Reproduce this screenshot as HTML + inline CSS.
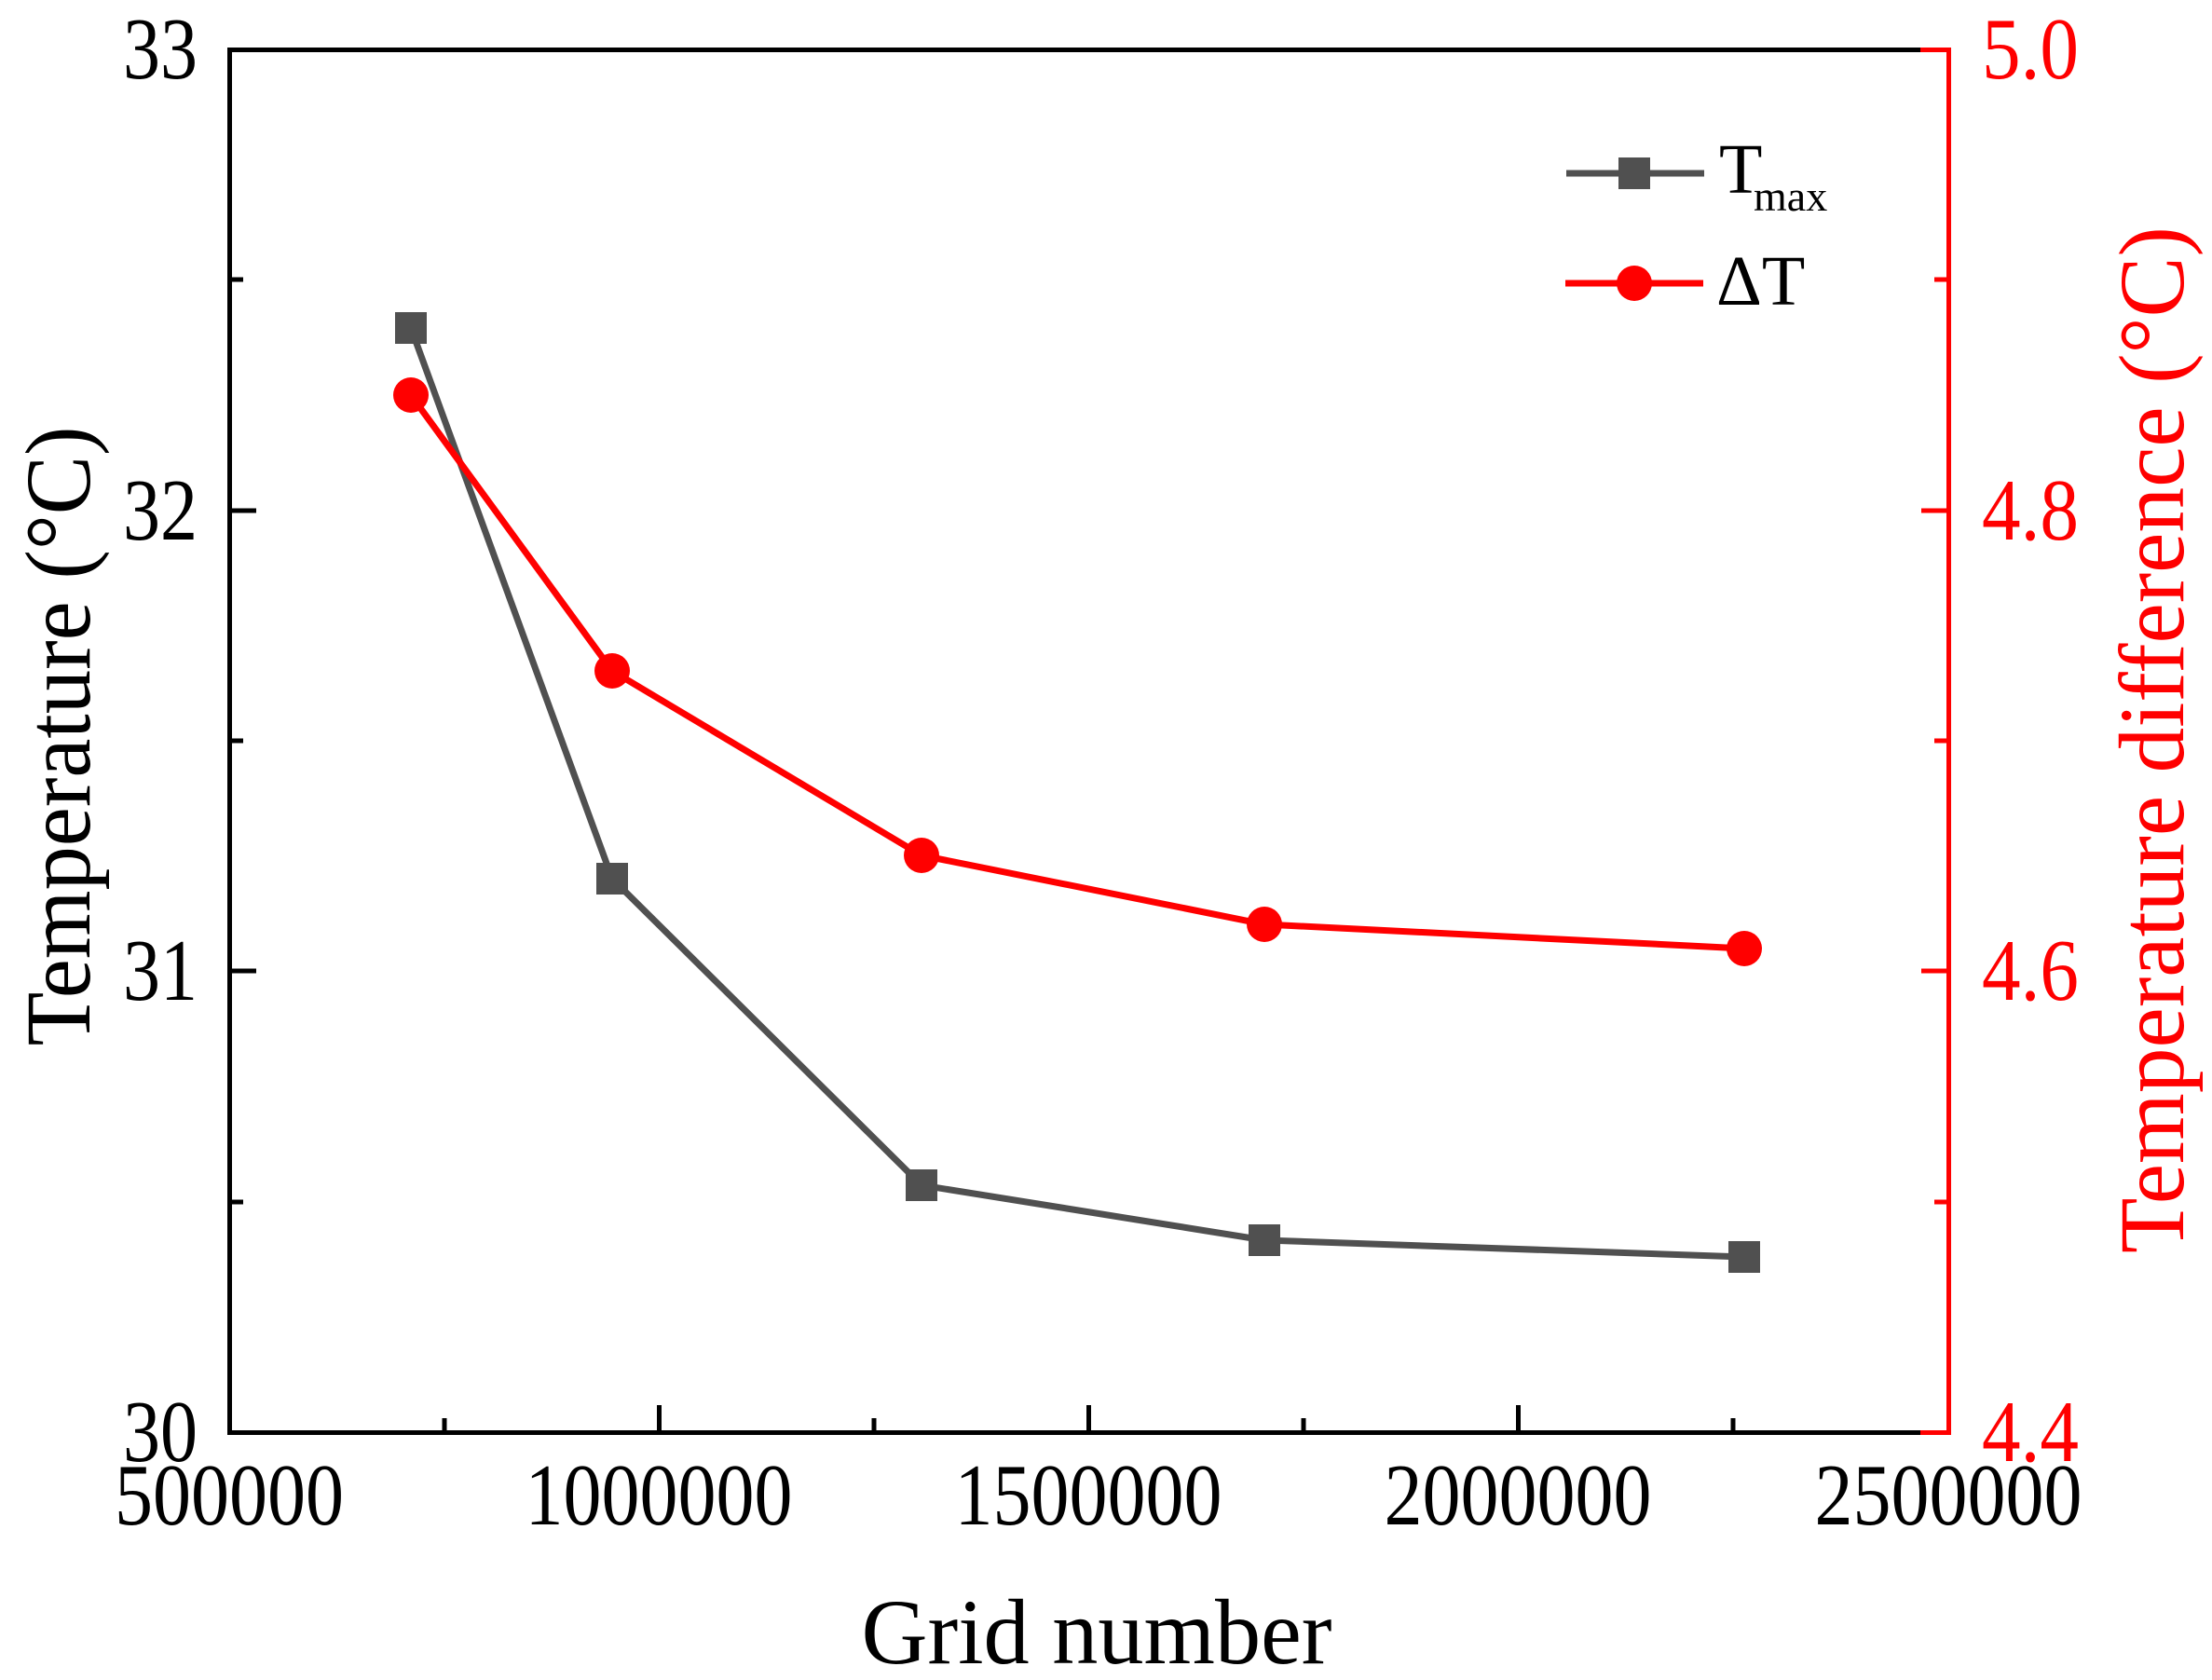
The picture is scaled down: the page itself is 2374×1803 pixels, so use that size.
<!DOCTYPE html>
<html><head><meta charset="utf-8"><style>
html,body{margin:0;padding:0;background:#fff;}
svg{display:block;}
text{font-family:"Liberation Serif",serif;}
</style></head><body>
<svg width="2374" height="1803" viewBox="0 0 2374 1803" xmlns="http://www.w3.org/2000/svg">
<rect width="2374" height="1803" fill="#fff"/>
<g stroke="#000" stroke-width="5">
<line x1="707.5" y1="1537" x2="707.5" y2="1508"/>
<line x1="1168.5" y1="1537" x2="1168.5" y2="1508"/>
<line x1="1629.5" y1="1537" x2="1629.5" y2="1508"/>
<line x1="477" y1="1537" x2="477" y2="1522"/>
<line x1="938" y1="1537" x2="938" y2="1522"/>
<line x1="1399" y1="1537" x2="1399" y2="1522"/>
<line x1="1860" y1="1537" x2="1860" y2="1522"/>
<line x1="246" y1="548" x2="275" y2="548"/>
<line x1="246" y1="1042" x2="275" y2="1042"/>
<line x1="246" y1="300" x2="261" y2="300"/>
<line x1="246" y1="795" x2="261" y2="795"/>
<line x1="246" y1="1290" x2="261" y2="1290"/>
</g>
<g stroke="#f00" stroke-width="5">
<line x1="2091" y1="548" x2="2062" y2="548"/>
<line x1="2091" y1="1042" x2="2062" y2="1042"/>
<line x1="2091" y1="300" x2="2076" y2="300"/>
<line x1="2091" y1="795" x2="2076" y2="795"/>
<line x1="2091" y1="1290" x2="2076" y2="1290"/>
</g>
<path d="M2061 53.5 H246.5 V1537.5 H2061" fill="none" stroke="#000" stroke-width="5"/>
<path d="M2061 53.5 H2091.5 V1537.5 H2061" fill="none" stroke="#f00" stroke-width="5"/>
<polyline points="441,352 657,943 989,1272 1357,1331 1872,1349" fill="none" stroke="#505050" stroke-width="7"/>
<g fill="#505050">
<rect x="424" y="335" width="34" height="34"/>
<rect x="640" y="926" width="34" height="34"/>
<rect x="972" y="1255" width="34" height="34"/>
<rect x="1340" y="1314" width="34" height="34"/>
<rect x="1855" y="1332" width="34" height="34"/>
</g>
<polyline points="441,424 657,720 989,918 1357,992 1872,1018" fill="none" stroke="#f00" stroke-width="7"/>
<g fill="#f00">
<circle cx="441" cy="424" r="19"/>
<circle cx="657" cy="720" r="19"/>
<circle cx="989" cy="918" r="19"/>
<circle cx="1357" cy="992" r="19"/>
<circle cx="1872" cy="1018" r="19"/>
</g>
<line x1="1681" y1="186" x2="1829" y2="186" stroke="#505050" stroke-width="7"/>
<rect x="1737" y="169" width="34" height="34" fill="#505050"/>
<text x="1845" y="207" font-size="76">T</text>
<text x="1882" y="226" font-size="46">max</text>
<line x1="1680" y1="304" x2="1828" y2="304" stroke="#f00" stroke-width="7"/>
<circle cx="1754" cy="304" r="19" fill="#f00"/>
<text x="1842" y="327" font-size="76">ΔT</text>
<g font-size="94" text-anchor="end">
<text x="212" y="84" textLength="80" lengthAdjust="spacingAndGlyphs">33</text>
<text x="212" y="579" textLength="80" lengthAdjust="spacingAndGlyphs">32</text>
<text x="212" y="1073" textLength="80" lengthAdjust="spacingAndGlyphs">31</text>
<text x="212" y="1568" textLength="80" lengthAdjust="spacingAndGlyphs">30</text>
</g>
<g font-size="94" fill="#f00">
<text x="2127" y="84" textLength="104" lengthAdjust="spacingAndGlyphs">5.0</text>
<text x="2127" y="579" textLength="104" lengthAdjust="spacingAndGlyphs">4.8</text>
<text x="2127" y="1073" textLength="104" lengthAdjust="spacingAndGlyphs">4.6</text>
<text x="2127" y="1568" textLength="104" lengthAdjust="spacingAndGlyphs">4.4</text>
</g>
<g font-size="94" text-anchor="middle">
<text x="246" y="1636" textLength="246" lengthAdjust="spacingAndGlyphs">500000</text>
<text x="707" y="1636" textLength="287" lengthAdjust="spacingAndGlyphs">1000000</text>
<text x="1168" y="1636" textLength="287" lengthAdjust="spacingAndGlyphs">1500000</text>
<text x="1629" y="1636" textLength="287" lengthAdjust="spacingAndGlyphs">2000000</text>
<text x="2091" y="1636" textLength="287" lengthAdjust="spacingAndGlyphs">2500000</text>
</g>
<text x="1177" y="1785" font-size="100" text-anchor="middle" textLength="505" lengthAdjust="spacingAndGlyphs">Grid number</text>
<text transform="translate(96,790) rotate(-90)" font-size="100" text-anchor="middle" textLength="665" lengthAdjust="spacingAndGlyphs">Temperature (°C)</text>
<text transform="translate(2343,794) rotate(-90)" font-size="100" fill="#f00" text-anchor="middle" textLength="1102" lengthAdjust="spacingAndGlyphs">Temperature difference (°C)</text>
</svg>
</body></html>
